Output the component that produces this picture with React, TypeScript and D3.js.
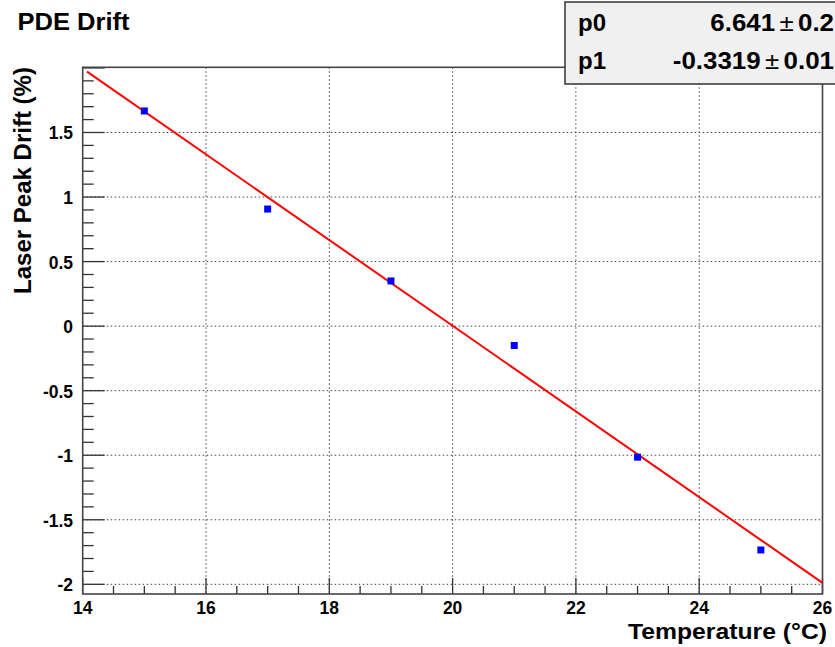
import React from "react";
import * as d3 from "d3";

// Measured PDE drift vs. temperature
const temperatures = [15, 17, 19, 21, 23, 25];
const drifts = [1.667, 0.907, 0.35, -0.15, -1.015, -1.734];

// Linear fit parameters (pol1: p0 + p1 * x)
const fitNames = ["p0", "p1"];
const fitValues = [6.641, -0.3319];
const fitErrors = ["0.2", "0.01"];
const fitRange = [14.07, 26];

const xTicks = [14, 16, 18, 20, 22, 24, 26];
const yTicks = [-2, -1.5, -1, -0.5, 0, 0.5, 1, 1.5];

const W = 835;
const H = 647;
const frame = { left: 82.7, right: 822.5, top: 67.3, bottom: 594 };
const FONT = "'Liberation Sans', Arial, Helvetica, sans-serif";

export default function App() {
  const x = d3.scaleLinear().domain([14, 26]).range([frame.left, frame.right]);
  const y = d3.scaleLinear().domain([-2.075, 2.005]).range([frame.bottom, frame.top]);

  const xMinor = d3.range(14, 26.001, 0.5);
  const yMinor = d3
    .range(-20, 21, 1)
    .map((v) => v / 10)
    .filter((v) => v >= -2.075 && v <= 2.005);

  const fit = (t: number) => fitValues[0] + fitValues[1] * t;
  const line = d3
    .line<number>()
    .x((t) => x(t))
    .y((t) => y(fit(t)));

  return (
    <div style={{ position: "fixed", left: 0, top: 0 }}>
      <svg width={W} height={H} style={{ display: "block", background: "#fff" }} fontFamily={FONT}>
        <rect x={0} y={0} width={W} height={H} fill="#fff" />

        {/* grid */}
        <g stroke="#444" strokeWidth={1} strokeDasharray="1.5,2.5">
          {xTicks
            .filter((t) => t > 14 && t < 26)
            .map((t) => (
              <line key={"gx" + t} x1={x(t)} x2={x(t)} y1={frame.top} y2={frame.bottom} />
            ))}
          {yTicks.map((t) => (
            <line key={"gy" + t} x1={frame.left} x2={frame.right} y1={y(t)} y2={y(t)} />
          ))}
        </g>

        {/* axis ticks */}
        <g stroke="#333" strokeWidth={1.3}>
          {xMinor.map((t) => {
            const major = Math.abs(t / 2 - Math.round(t / 2)) < 1e-6;
            return (
              <line
                key={"tx" + t}
                x1={x(t)}
                x2={x(t)}
                y1={frame.bottom}
                y2={frame.bottom - (major ? 16 : 8)}
              />
            );
          })}
          {yMinor.map((t) => {
            const major = Math.abs(t * 2 - Math.round(t * 2)) < 1e-6;
            return (
              <line
                key={"ty" + t}
                x1={frame.left}
                x2={frame.left + (major ? 22 : 11)}
                y1={y(t)}
                y2={y(t)}
              />
            );
          })}
        </g>

        {/* frame */}
        <rect
          x={frame.left}
          y={frame.top}
          width={frame.right - frame.left}
          height={frame.bottom - frame.top}
          fill="none"
          stroke="#444"
          strokeWidth={1.6}
        />

        {/* fit line */}
        <path d={line([fitRange[0], fitRange[1]]) || ""} fill="none" stroke="#ff0000" strokeWidth={2} />

        {/* data points */}
        <g fill="#0000ff">
          {temperatures.map((t, i) => (
            <rect key={"p" + i} x={x(t) - 3.5} y={y(drifts[i]) - 3.5} width={7} height={7} />
          ))}
        </g>

        {/* tick labels */}
        <g fontWeight="bold" fontSize={19} fill="#000">
          {xTicks.map((t) => (
            <text
              key={"lx" + t}
              transform={`translate(${x(t)},614) scale(0.92,1)`}
              textAnchor="middle"
            >
              {String(t)}
            </text>
          ))}
          {yTicks.map((t) => (
            <text
              key={"ly" + t}
              transform={`translate(73,${y(t) + 7}) scale(0.92,1)`}
              textAnchor="end"
            >
              {String(t)}
            </text>
          ))}
        </g>

        {/* titles */}
        <text x={17.5} y={30} fontSize={24} fontWeight="bold" textLength={112} lengthAdjust="spacingAndGlyphs">
          PDE Drift
        </text>
        <text
          transform="translate(31,67) rotate(-90)"
          textAnchor="end"
          fontSize={23}
          fontWeight="bold"
          textLength={227}
          lengthAdjust="spacingAndGlyphs"
        >
          Laser Peak Drift (%)
        </text>
        <text
          x={827}
          y={639}
          textAnchor="end"
          fontSize={22}
          fontWeight="bold"
          textLength={199}
          lengthAdjust="spacingAndGlyphs"
        >
          Temperature (°C)
        </text>

        {/* fit parameter box */}
        <rect x={565} y={2} width={290} height={82} fill="#f0f0f0" stroke="#333" strokeWidth={1.5} />
        <g fontSize={24} fontWeight="bold" fill="#000">
          {fitNames.map((n, i) => {
            const by = 31 + i * 38;
            return (
              <g key={n}>
                <text x={578} y={by}>
                  {n}
                </text>
                <text transform={`translate(834,${by}) scale(1.08,1)`} textAnchor="end">
                  {String(fitValues[i])}
                  <tspan fontWeight="normal" dx={4}>±</tspan>
                  <tspan dx={4}>{fitErrors[i]}</tspan>
                </text>
              </g>
            );
          })}
        </g>
      </svg>
    </div>
  );
}
